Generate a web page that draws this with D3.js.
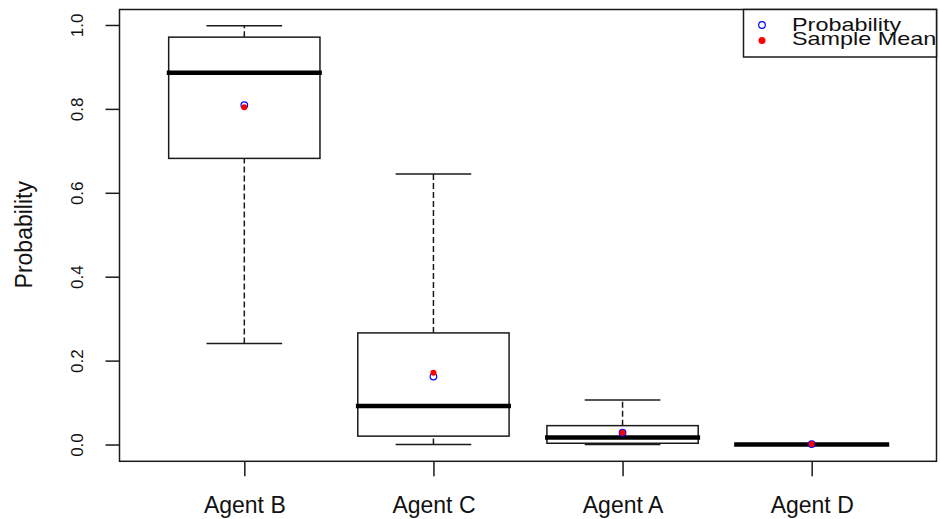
<!DOCTYPE html>
<html>
<head>
<meta charset="utf-8">
<script src="https://cdn.jsdelivr.net/npm/d3@7"></script>
<style>
  body { margin: 0; background: #fff; }
  svg { display: block; font-family: "Liberation Sans", Arial, sans-serif; }
</style>
</head>
<body>
<div id="canvas"></div>
<script>
// data
var agents = ['Agent B', 'Agent C', 'Agent A', 'Agent D'];
var whiskerLow = [0.241, 0.0, 0.0, 0.0];
var q1 = [0.682, 0.020, 0.003, 0.0];
var medians = [0.886, 0.092, 0.017, 0.0];
var q3 = [0.971, 0.266, 0.045, 0.0];
var whiskerHigh = [0.998, 0.645, 0.106, 0.0];
var probability = [0.809, 0.162, 0.028, 0.001];
var sampleMean = [0.804, 0.171, 0.028, 0.001];
var yTicks = [0, 0.2, 0.4, 0.6, 0.8, 1.0];
var legendItems = ['Probability', 'Sample Mean'];

var W = 940, H = 519;
var m = {t: 8.2, r: 3.5, b: 57.7, l: 119.5};

var svg = d3.select('#canvas').append('svg')
    .attr('width', W).attr('height', H);

var x = d3.scaleLinear().domain([0.34, 4.66]).range([m.l, W - m.r]);
var y = d3.scaleLinear().domain([-0.04, 1.04]).range([H - m.b, m.t]);

var ink = '#1a1a1a', lw = 1.5;
var boxes = agents.map(function(a, i){
    return {name: a, pos: i + 1, lo: whiskerLow[i], q1: q1[i], med: medians[i],
            q3: q3[i], hi: whiskerHigh[i], p: probability[i], s: sampleMean[i]};
});

var plot = svg.append('g').attr('class', 'plot');

boxes.forEach(function(d){
    var g = plot.append('g');
    var cx = x(d.pos);
    // dashed whiskers
    [[d.q3, d.hi], [d.lo, d.q1]].forEach(function(seg){
        if (seg[1] - seg[0] > 0.001) {
            g.append('line').attr('x1', cx).attr('x2', cx)
                .attr('y1', y(seg[0])).attr('y2', y(seg[1]))
                .style('stroke', ink).style('stroke-width', lw)
                .style('stroke-dasharray', '6,3');
        }
    });
    // caps
    [d.lo, d.hi].forEach(function(v){
        g.append('line').attr('x1', x(d.pos - 0.2)).attr('x2', x(d.pos + 0.2))
            .attr('y1', y(v)).attr('y2', y(v))
            .style('stroke', ink).style('stroke-width', lw);
    });
    // box
    g.append('rect')
        .attr('x', x(d.pos - 0.4)).attr('width', x(d.pos + 0.4) - x(d.pos - 0.4))
        .attr('y', y(d.q3)).attr('height', y(d.q1) - y(d.q3))
        .style('fill', 'white').style('stroke', ink).style('stroke-width', lw);
    // median
    g.append('line').attr('x1', x(d.pos - 0.41)).attr('x2', x(d.pos + 0.41))
        .attr('y1', y(d.med)).attr('y2', y(d.med))
        .style('stroke', '#000').style('stroke-width', 4.5);
});

// points: probability (blue open circle), sample mean (red dot)
plot.selectAll('.prob').data(boxes).enter().append('circle')
    .attr('class', 'prob')
    .attr('cx', function(d){ return x(d.pos); })
    .attr('cy', function(d){ return y(d.p); })
    .attr('r', 3.3)
    .style('fill', 'none').style('stroke', 'blue').style('stroke-width', 1.2);

plot.selectAll('.smean').data(boxes).enter().append('circle')
    .attr('class', 'smean')
    .attr('cx', function(d){ return x(d.pos); })
    .attr('cy', function(d){ return y(d.s); })
    .attr('r', 3)
    .style('fill', 'red');

// frame
svg.append('rect')
    .attr('x', m.l).attr('y', m.t + 1.3)
    .attr('width', W - m.r - m.l).attr('height', H - m.b - m.t - 1.3)
    .style('fill', 'none').style('stroke', ink).style('stroke-width', lw);

// y axis
var yAxis = svg.append('g')
    .attr('transform', 'translate(' + m.l + ',0)')
    .call(d3.axisLeft(y).tickValues(yTicks).tickSizeOuter(0).tickSize(14)
        .tickFormat(d3.format('.1f')));
yAxis.select('.domain').remove();
yAxis.selectAll('.tick line').style('stroke', ink).style('stroke-width', lw);
yAxis.selectAll('.tick text')
    .attr('x', null).attr('dy', null)
    .attr('transform', 'translate(-36.5,0) rotate(-90)')
    .attr('text-anchor', 'middle')
    .style('font-size', '17px').style('fill', '#111')
    .style('font-family', '"Liberation Sans", Arial, sans-serif');

// x axis
var xAxis = svg.append('g')
    .attr('transform', 'translate(0,' + (H - m.b) + ')')
    .call(d3.axisBottom(x).tickValues(boxes.map(function(d){ return d.pos; }))
        .tickSizeOuter(0).tickSize(15)
        .tickFormat(function(d){ return agents[d - 1]; }));
xAxis.select('.domain').remove();
xAxis.selectAll('.tick line').style('stroke', ink).style('stroke-width', lw);
xAxis.selectAll('.tick text')
    .attr('y', 51.5).attr('dy', null)
    .style('font-size', '23px').style('fill', '#111')
    .style('font-family', '"Liberation Sans", Arial, sans-serif');

// y label
svg.append('text')
    .attr('transform', 'translate(31.5,' + ((m.t + H - m.b) / 2) + ') rotate(-90)')
    .attr('text-anchor', 'middle')
    .style('font-size', '23px').style('fill', '#111')
    .text('Probability');

// legend
var leg = svg.append('g').attr('class', 'legend');
leg.append('rect')
    .attr('x', 743.5).attr('y', m.t + 1.3)
    .attr('width', W - m.r - 743.5).attr('height', 47.5)
    .style('fill', 'white').style('stroke', ink).style('stroke-width', lw);
leg.append('circle').attr('cx', 762).attr('cy', 25).attr('r', 3.3)
    .style('fill', 'none').style('stroke', 'blue').style('stroke-width', 1.2);
leg.append('circle').attr('cx', 762).attr('cy', 40.5).attr('r', 3.5)
    .style('fill', 'red');
leg.selectAll('.ltext').data(legendItems).enter().append('text')
    .attr('class', 'ltext')
    .attr('transform', function(d, i){
        return 'translate(792,' + (31 + i * 14) + ') scale(1.3,1)';
    })
    .style('font-size', '18px').style('fill', '#111')
    .text(function(d){ return d; });
</script>
</body>
</html>
